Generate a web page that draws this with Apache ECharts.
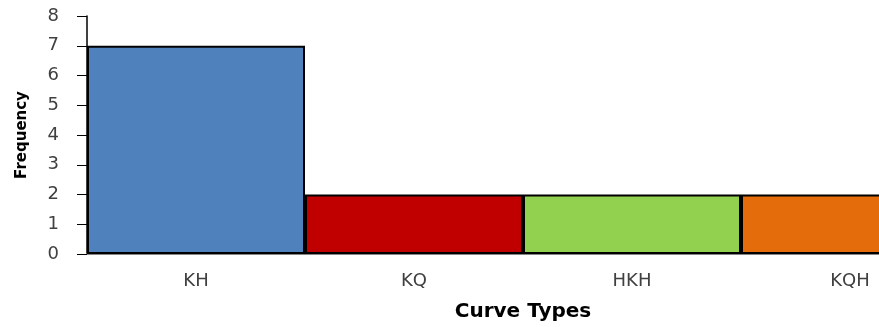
<!DOCTYPE html>
<html>
<head>
<meta charset="utf-8">
<script src="https://cdn.jsdelivr.net/npm/echarts@6/dist/echarts.min.js"></script>
<style>
  html, body { margin: 0; padding: 0; background: #fff; overflow: hidden; }
  /* the last category runs past the right edge of the window */
  #chart { width: 959px; height: 327px; }
</style>
</head>
<body>
<div id="chart"></div>
<script>
// Curve type frequencies
const categories = ['KH', 'KQ', 'HKH', 'KQH'];
const frequencies = [7, 2, 2, 2];
const barColors = ['#4F81BD', '#C00000', '#92D050', '#E46C0A'];
const yTicks = [0, 1, 2, 3, 4, 5, 6, 7, 8];

const chart = echarts.init(document.getElementById('chart'), null, { renderer: 'canvas' });

chart.setOption({
  animation: false,
  backgroundColor: '#ffffff',
  grid: { left: 87, top: 16, right: 0, bottom: 73, containLabel: false },
  xAxis: {
    type: 'category',
    data: categories,
    name: 'Curve Types',
    nameLocation: 'middle',
    nameGap: 48,
    nameTextStyle: { fontFamily: 'DejaVu Sans', fontWeight: 'bold', fontSize: 20, color: '#000' },
    axisLine: { lineStyle: { color: '#868686', width: 2 } },
    axisTick: { show: false },
    axisLabel: { fontFamily: 'DejaVu Sans', fontSize: 18, color: '#404040', margin: 18 }
  },
  yAxis: {
    type: 'value',
    min: yTicks[0],
    max: yTicks[yTicks.length - 1],
    interval: 1,
    name: 'Frequency',
    nameLocation: 'middle',
    nameGap: 57,
    nameRotate: 90,
    nameTextStyle: { fontFamily: 'DejaVu Sans', fontWeight: 'bold', fontSize: 15, color: '#000' },
    axisLine: { show: true, lineStyle: { color: '#000', width: 1.5 } },
    axisTick: { show: true, length: 10, lineStyle: { color: '#000', width: 1 } },
    axisLabel: { fontFamily: 'DejaVu Sans', fontSize: 18, color: '#404040', margin: 28 },
    splitLine: { show: false }
  },
  series: [{
    type: 'bar',
    barCategoryGap: 0,
    data: frequencies.map((v, i) => ({
      value: v,
      itemStyle: { color: barColors[i], borderColor: '#000', borderWidth: 2 }
    }))
  }]
});
</script>
</body>
</html>
